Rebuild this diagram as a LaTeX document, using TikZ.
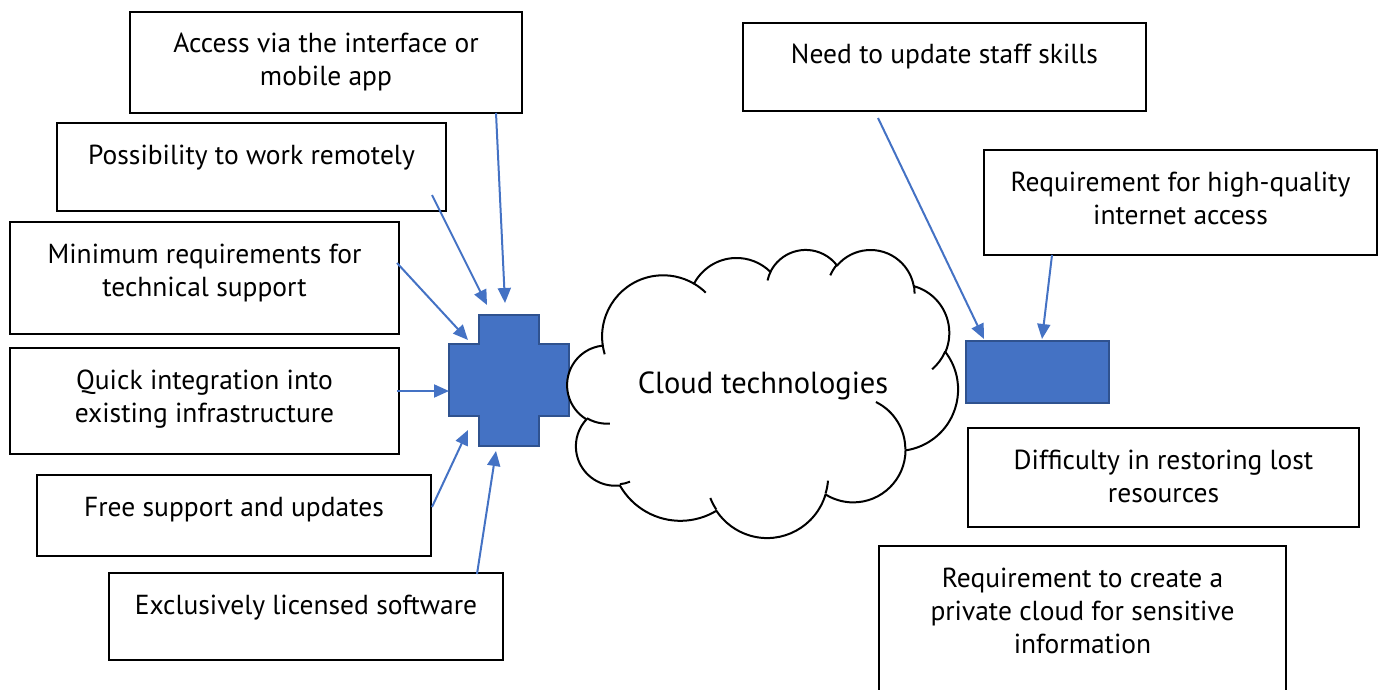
\documentclass[tikz,border=0pt]{standalone}
\usepackage{fontspec}
\setmainfont{PT Sans}
\usetikzlibrary{arrows.meta}
\definecolor{ablue}{HTML}{4472C4}
\definecolor{dblue}{HTML}{2F528F}
\pgfmathdeclarefunction{pang}{3}{%
  \begingroup
  \pgfmathparse{#1+atan((#2/#3-1)*sin(#1)*cos(#1)/(cos(#1)*cos(#1)+(#2/#3)*sin(#1)*sin(#1)))}%
  \pgfmathsmuggle\pgfmathresult
  \endgroup}
\newcommand\carc[4]{arc[x radius=#1pt, y radius=#2pt, start angle={-pang(#3,#1,#2)}, end angle={-pang(#3+#4,#1,#2)}]}
\newcommand\bxnode[6]{\node[bx] (#1) at (#2,#3) {\parbox[c][#5pt][t]{#4pt}{\centering\rule{0pt}{41pt}#6}};}
\tikzset{
  bx/.style={draw=black, line width=2.3pt, fill=white, inner sep=0pt, rectangle,
    font=\fontsize{27.5}{33}\selectfont},
  conn/.style={draw=ablue, line width=2pt, -{Triangle[length=15pt,width=13pt]}},
  blueshape/.style={fill=ablue, draw=dblue, line width=2pt},
  cloudline/.style={draw=black, line width=2pt}
}
\begin{document}
\begin{tikzpicture}[x=1pt,y=-1pt]
\useasboundingbox (0,0) rectangle (1383,690);
% boxes
\bxnode{b1}{326}{62.5}{392}{101}{Access via the interface or\\mobile app}
\bxnode{b2}{251.5}{167}{389}{88}{Possibility to work remotely}
\bxnode{b3}{204.5}{278}{389}{112}{Minimum requirements for\\technical support}
\bxnode{b4}{204.5}{401}{389}{106}{Quick integration into\\existing infrastructure}
\bxnode{b5}{234}{515.5}{394}{81}{Free support and updates}
\bxnode{b6}{306}{616.5}{394}{87}{Exclusively licensed software}
\bxnode{b7}{944.5}{67}{403}{88}{Need to update staff skills}
\bxnode{b8}{1180.5}{202.5}{393}{105}{Requirement for high-quality\\internet access}
\bxnode{b9}{1163.5}{477.5}{391}{99}{Difficulty in restoring lost\\resources}
\bxnode{b10}{1082.5}{625}{407}{158}{Requirement to create a\\private cloud for sensitive\\information}
% plus and minus
\draw[blueshape] (479,315) -- (539,315) -- (539,344) -- (569,344) -- (569,416) -- (539,416)
  -- (539,446) -- (479,446) -- (479,416) -- (449,416) -- (449,344) -- (479,344) -- cycle;
\draw[blueshape] (966,341) rectangle (1109,403);
% cloud
\begin{scope}[shift={(567.4,249)}, xscale=0.904, yscale=0.6667]
\draw[cloudline, fill=white, line join=round] (39.00,143.70)
  \carc{67.53}{91.90}{-190.48748}{123.78053}
  \carc{53.33}{72.67}{-144.10238}{89.94523}
  \carc{43.65}{59.45}{-145.80792}{99.72302}
  \carc{48.57}{65.95}{-130.98607}{117.24173}
  \carc{53.33}{72.73}{-78.70888}{109.02692}
  \carc{67.75}{92.20}{-46.26725}{130.269}
  \carc{57.85}{78.67}{0.62502}{114.03333}
  \carc{67.52}{92.15}{22.4516}{115.17255}
  \carc{77.20}{105.43}{66.24263}{75.71102}
  \carc{43.60}{59.18}{-274.94208}{146.73557}
  \carc{43.45}{59.45}{-246.8285}{152.51885}
  -- cycle;
\draw[cloudline]
  (46.93,261.77) \carc{43.45}{59.45}{86.742}{26.4295}
  (69.28,348.99) \carc{43.60}{59.18}{73.6105}{11.4475}
  (164.78,390.90) \carc{67.52}{92.15}{137.6242}{14.0811}
  (288.27,347.51) \carc{67.52}{92.15}{6.4533}{15.9984}
  (341.29,229.54) \carc{57.85}{78.67}{-70.2924}{70.9174}
  (417.98,153.54) \carc{53.33}{72.73}{30.3180}{27.7515}
  (383.24,54.26) \carc{48.57}{65.95}{-13.7443}{14.8589}
  (290.78,39.52) \carc{48.57}{65.95}{-149.1815}{18.1954}
  (221.41,47.20) \carc{43.65}{59.45}{-163.4943}{17.6864}
  (140.00,51.92) \carc{67.53}{91.90}{-66.7070}{12.3194}
  (41.27,157.89) \carc{67.53}{91.90}{157.6544}{11.8582};
\end{scope}
\node[font=\fontsize{30.5}{36}\selectfont, inner sep=0pt, anchor=base] (cloudtxt) at (763,393) {Cloud technologies};
% connector end points
\coordinate (s1) at (496,113);  \coordinate (e1) at (505,303);
\coordinate (s2) at (432,195);  \coordinate (e2) at (487,305);
\coordinate (s3) at (397,263);  \coordinate (e3) at (468,340);
\coordinate (s4) at (397,391);  \coordinate (e4) at (449,391);
\coordinate (s5) at (432,507);  \coordinate (e5) at (468,430);
\coordinate (s6) at (477,574);  \coordinate (e6) at (496,451);
\coordinate (s7) at (878,118);  \coordinate (e7) at (984,339);
\coordinate (s8) at (1052,255); \coordinate (e8) at (1042,339);
\foreach \i in {1,...,8} {\draw[conn] (s\i) -- (e\i);}
\end{tikzpicture}
\end{document}
